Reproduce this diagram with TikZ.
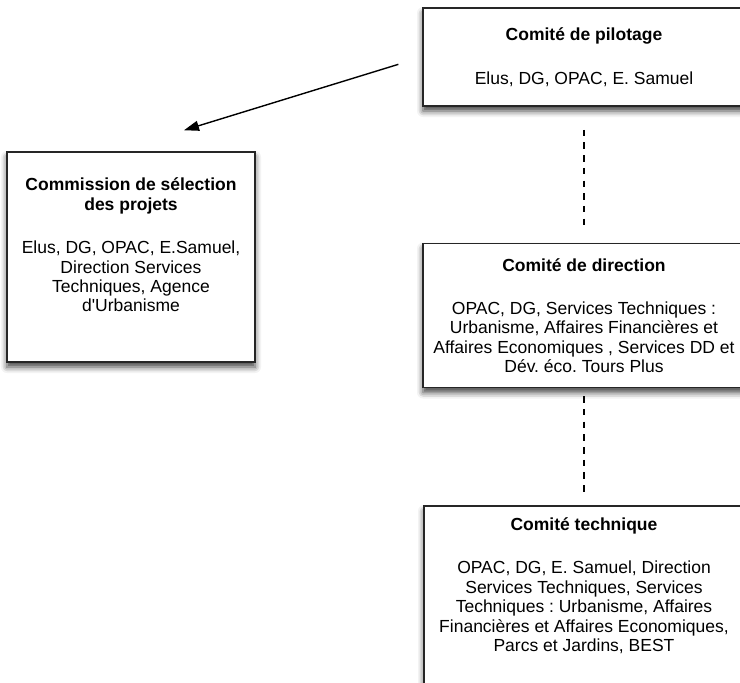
\documentclass[tikz,border=0pt]{standalone}
\usepackage{fontspec}
\setmainfont{Liberation Sans}
\usetikzlibrary{arrows.meta,positioning,shadows.blur}
\frenchspacing

\begin{document}
\begin{tikzpicture}[
      x=1pt, y=-1pt,
      mybox/.style={
         rectangle,
         draw=black!85,
         line width=1.5pt,
         fill=white,
         blur shadow={shadow xshift=0pt,shadow yshift=-5pt,
            shadow blur radius=6pt,shadow opacity=75},
         align=center,
         inner sep=0pt,
         font=\fontsize{17.5}{19.4}\selectfont},
      mydash/.style={line width=1.3pt,dash pattern=on 6.5pt off 6.2pt},
      myarrow/.style={-{Triangle[length=15pt,width=10pt]},line width=1.4pt},
      node distance=136pt
      ]
      \useasboundingbox (0,0) rectangle (740,683);

      \node[mybox,minimum width=322pt,minimum height=98pt] (pil) at (584,57)
         {\textbf{Comité de pilotage}\\[24pt]
          Elus, DG, OPAC, E. Samuel};
      \node[mybox,minimum width=322pt,minimum height=144pt,below=of pil] (dir)
         {\textbf{Comité de direction}\\[24pt]
          OPAC, DG, Services Techniques :\\
          Urbanisme, Affaires Financières et\\
          Affaires Economiques , Services DD et\\
          Dév. éco. Tours Plus};
      \node[mybox,minimum width=320pt,minimum height=217pt,below=117pt of dir] (tec)
         {\textbf{Comité technique}\\[24pt]
          OPAC, DG, E. Samuel, Direction\\
          Services Techniques, Services\\
          Techniques : Urbanisme, Affaires\\
          Financières et Affaires Economiques,\\
          Parcs et Jardins, BEST\rule[-60pt]{0pt}{60pt}};
      \node[mybox,minimum width=248pt,minimum height=210pt] (csel) at (131,257)
         {\textbf{Commission de sélection}\\
          \textbf{des projets}\\[24pt]
          Elus, DG, OPAC, E.Samuel,\\
          Direction Services\\
          Techniques, Agence\\
          d\textquotesingle Urbanisme\rule[-24pt]{0pt}{24pt}};

      \coordinate[above right=21pt and 53pt of csel.north] (tip);

    \foreach \i/\j/\s/\e in {% start/end/shorten start/shorten end
      pil.south/dir.north/23pt/15pt,
      dir.south/tec.north/8pt/11pt}
       \draw[mydash,shorten <=\s,shorten >=\e] (\i) -- (\j);

    \draw[myarrow,shorten <=25pt] (pil.west) -- (tip);

\end{tikzpicture}
\end{document}
